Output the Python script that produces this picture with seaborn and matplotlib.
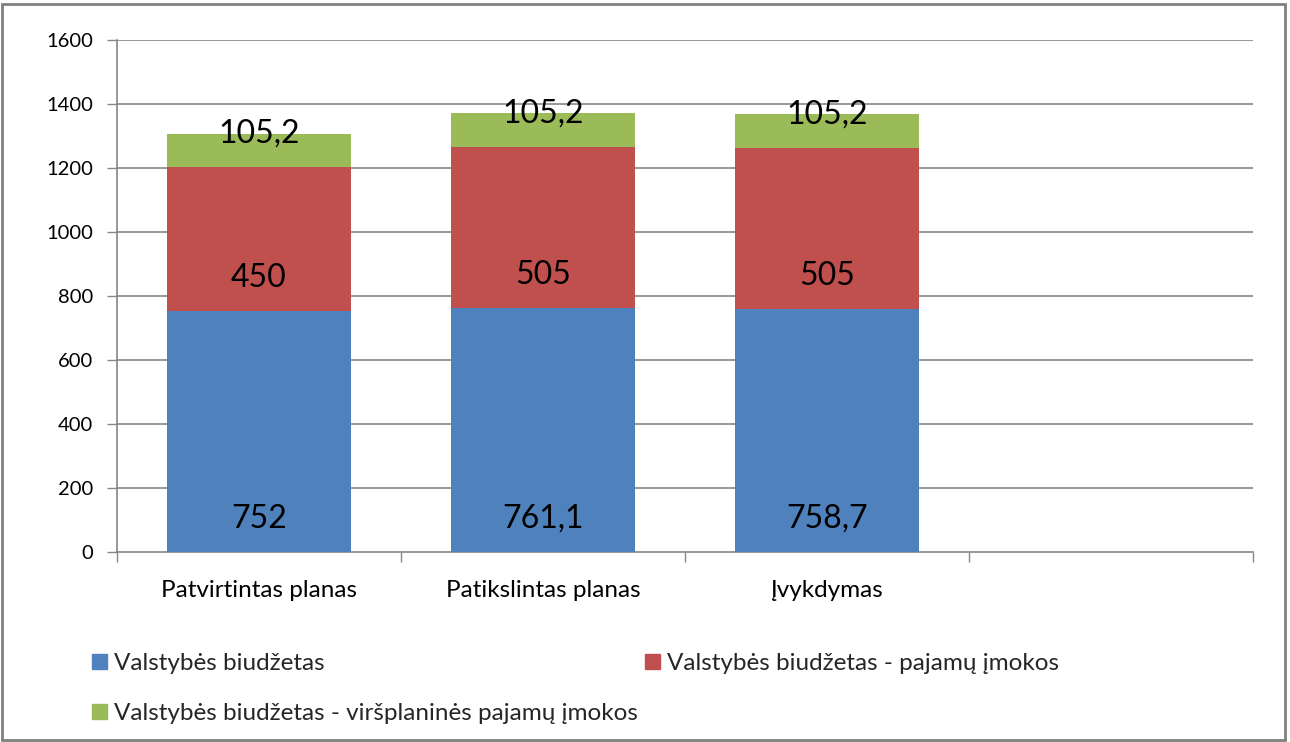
import matplotlib
matplotlib.use("Agg")
import matplotlib.pyplot as plt
import pandas as pd
import seaborn as sns
from matplotlib.patches import Patch, Rectangle

categories = ["Patvirtintas planas", "Patikslintas planas", "Įvykdymas"]
empty_slot = " "
series_names = [
    "Valstybės biudžetas",
    "Valstybės biudžetas - pajamų įmokos",
    "Valstybės biudžetas - viršplaninės pajamų įmokos",
]
budget = [752, 761.1, 758.7]
income = [450, 505, 505]
extra_income = [105.2, 105.2, 105.2]
colors = ["#4F81BD", "#C0504D", "#9BBB59"]
y_ticks = [0, 200, 400, 600, 800, 1000, 1200, 1400, 1600]


def fmt(v):
    return f"{v:g}".replace(".", ",")


sns.set_theme(style="white")
plt.rcParams["font.family"] = ["Lato", "DejaVu Sans"]

df = pd.DataFrame({"category": categories, "budget": budget, "income": income, "extra": extra_income})
df["lvl1"] = df["budget"]
df["lvl2"] = df["budget"] + df["income"]
df["lvl3"] = df["lvl2"] + df["extra"]
order = categories + [empty_slot]

fig = plt.figure(figsize=(12.9, 7.42), dpi=100)
ax = fig.add_axes([117 / 1290, 190 / 742, 1136 / 1290, 512 / 742])

# stacked bars: draw tallest first, then cover
for col, color in zip(["lvl3", "lvl2", "lvl1"], colors[::-1]):
    sns.barplot(data=df, x="category", y=col, order=order, color=color, width=0.65,
                saturation=1, ax=ax, zorder=3, edgecolor="none")

grid_color = "#868686"
ax.set_ylim(0, 1600)
ax.set_xlim(-0.5, 3.5)
ax.set_yticks(y_ticks)
ax.set_yticklabels([str(t) for t in y_ticks])
for t in y_ticks[1:]:
    ax.axhline(t, color=grid_color, lw=1.2, zorder=1)
ax.set_xticks(range(len(order)))
ax.set_xticklabels(order)
ax.set_xticks([-0.5, 0.5, 1.5, 2.5, 3.5], minor=True)
ax.tick_params(axis="x", which="major", length=0, pad=20, labelsize=17.5, labelcolor="black")
ax.tick_params(axis="x", which="minor", length=7, width=1, color=grid_color, direction="out", bottom=True)
ax.tick_params(axis="y", length=7, width=1, color=grid_color, direction="out", left=True, pad=10,
               labelsize=14.5, labelcolor="black")
ax.set_xlabel("")
ax.set_ylabel("")
for side in ["top", "right"]:
    ax.spines[side].set_visible(False)
for side in ["left", "bottom"]:
    ax.spines[side].set_color(grid_color)
    ax.spines[side].set_linewidth(1.2)

# data labels near segment base
for i in range(len(categories)):
    bases = [0, budget[i], budget[i] + income[i]]
    vals = [budget[i], income[i], extra_income[i]]
    for b, v in zip(bases, vals):
        ax.annotate(fmt(v), xy=(i, b), xytext=(0, 24), textcoords="offset points",
                    ha="center", va="center", fontsize=23, color="black", zorder=5)

handles = [Patch(color=c) for c in colors]
leg_order = [0, 2, 1]
fig.legend([handles[k] for k in leg_order], [series_names[k] for k in leg_order],
           ncol=2, loc="upper left", bbox_to_anchor=(80 / 1290, 1 - 641 / 742),
           frameon=False, fontsize=17.5, handlelength=0.6, handleheight=0.6,
           handletextpad=0.3, columnspacing=0.3, labelspacing=1.2, borderpad=0)

fig.patches.append(Rectangle((2 / 1290, 2 / 742), 1283 / 1290, 736 / 742, transform=fig.transFigure,
                             fill=False, edgecolor="#808080", lw=2))

fig.savefig("out.png", dpi=100)
